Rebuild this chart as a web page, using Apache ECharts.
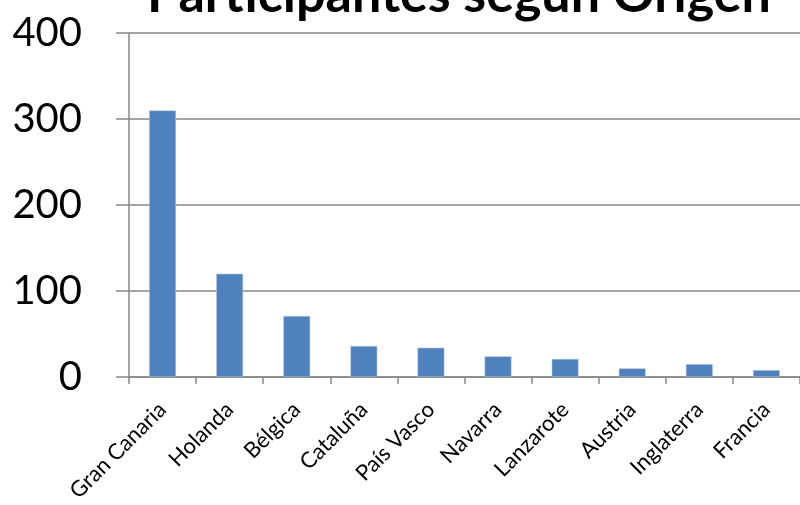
<!DOCTYPE html>
<html><head><meta charset="utf-8">
<script src="https://cdn.jsdelivr.net/npm/echarts@6/dist/echarts.min.js"></script>
<style>html,body{margin:0;padding:0;background:#fff}#c{width:800px;height:505px}</style>
</head><body><div id="c"></div>
<script>
const titleText = 'Participantes según Origen';
const categories = ['Gran Canaria','Holanda','Bélgica','Cataluña','País Vasco','Navarra','Lanzarote','Austria','Inglaterra','Francia'];
const participants = [310, 120, 71, 36, 34, 24, 21, 10, 15, 8];
const yTicks = [0, 100, 200, 300, 400];

const chart = echarts.init(document.getElementById('c'), null, {renderer:'canvas'});
chart.setOption({
  animation:false,
  backgroundColor:'#fff',
  title:{
    text:titleText, left:454, top:-36, textAlign:'center',
    textStyle:{fontFamily:'Lato', fontWeight:'bold', fontSize:52, color:'#000'}
  },
  grid:{left:129, top:33, width:681, height:344, containLabel:false},
  xAxis:{
    type:'category', data:categories,
    axisLine:{lineStyle:{color:'#868686', width:1.5}},
    axisTick:{show:true, length:7, lineStyle:{color:'#868686', width:1.5}},
    axisLabel:{rotate:45, margin:29, fontFamily:'Lato', fontSize:22, color:'#000', interval:0}
  },
  yAxis:{
    type:'value', min:yTicks[0], max:yTicks[yTicks.length-1], interval:100,
    axisLine:{show:true, lineStyle:{color:'#868686', width:1.5}},
    axisTick:{show:true, inside:false, length:13, lineStyle:{color:'#868686', width:1.5}},
    splitLine:{show:true, lineStyle:{color:'#868686', width:1.5}},
    axisLabel:{margin:47, fontFamily:'Lato', fontSize:40, color:'#000'}
  },
  series:[{
    type:'bar', data:participants, barCategoryGap:'60%',
    itemStyle:{color:'#4F81BD', borderColor:'#B9CDE5', borderWidth:0.5}
  }]
});
</script></body></html>
